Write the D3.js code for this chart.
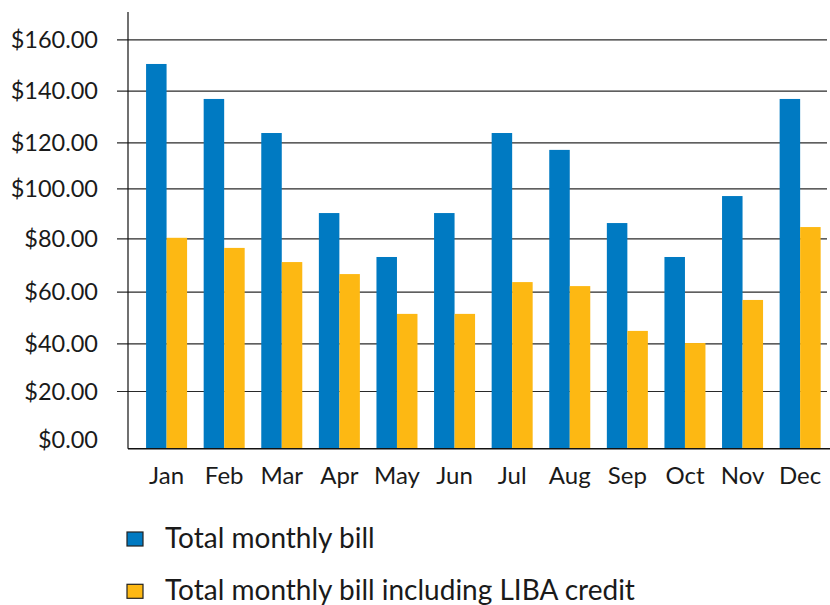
<!DOCTYPE html>
<html>
<head>
<meta charset="utf-8">
<script src="https://cdn.jsdelivr.net/npm/d3@7"></script>
<style>
  body { margin: 0; background: #fff; }
  text { font-family: Lato, "Open Sans", sans-serif; fill: #1a1a1a; }
</style>
</head>
<body>
<svg id="chart" width="830" height="605"></svg>
<script>
// ---- data ----
const months = ["Jan","Feb","Mar","Apr","May","Jun","Jul","Aug","Sep","Oct","Nov","Dec"];
const seriesNames = ["Total monthly bill", "Total monthly bill including LIBA credit"];
const totalBill = [150.4, 136.8, 123.6, 90.1, 73.0, 90.1, 123.6, 116.7, 86.1, 73.0, 96.9, 136.8];
const totalWithCredit = [80.2, 76.4, 71.1, 66.6, 51.4, 51.4, 63.6, 62.1, 44.8, 40.1, 56.8, 84.5];
const yTicks = [0, 20, 40, 60, 80, 100, 120, 140, 160];
const colors = ["#007ac2", "#fdb813"];

// ---- layout ----
const svg = d3.select("#chart");
const axisX = 128, plotRight = 827, plotTop = 12;
// tick positions of the reference's value axis (its gridlines are not evenly spaced)
const yRange = [448.7, 391, 343.3, 291.7, 238.3, 188.3, 142.3, 90.7, 39.3];

const y = d3.scaleLinear().domain(yTicks).range(yRange);
const x0 = d3.scaleBand().domain(months).range([axisX, plotRight])
  .paddingInner(0.288).paddingOuter(0.212).align(0.74);
const x1 = d3.scaleBand().domain(seriesNames).range([0, x0.bandwidth()]);

const rows = months.map((m, i) => ({ month: m, values: [totalBill[i], totalWithCredit[i]] }));

// gridlines
const grid = svg.append("g").attr("transform", `translate(${plotRight},0)`)
  .call(d3.axisLeft(y).tickValues(yTicks.slice(1)).tickSize(plotRight - 117).tickFormat(""));
grid.select(".domain").remove();
grid.selectAll(".tick line").attr("stroke", "#2a2a2a").attr("stroke-width", 1.2);

// bars
svg.append("g").selectAll("g").data(rows).join("g")
  .attr("transform", d => `translate(${x0(d.month)},0)`)
  .selectAll("rect").data(d => d.values.map((v, k) => ({ k, v })))
  .join("rect")
  .attr("x", d => x1(seriesNames[d.k]))
  .attr("width", x1.bandwidth())
  .attr("y", d => y(d.v))
  .attr("height", d => y(0) - y(d.v))
  .attr("fill", d => colors[d.k]);

// y labels
const yAx = svg.append("g").attr("transform", `translate(${axisX},0)`)
  .call(d3.axisLeft(y).tickValues(yTicks).tickSize(0).tickPadding(30)
    .tickFormat(d => "$" + d3.format(".2f")(d)));
yAx.select(".domain").remove();
yAx.selectAll(".tick text")
  .style("font-size", "23.5px").style("font-family", "Lato, 'Open Sans', sans-serif")
  .attr("fill", "#1a1a1a")
  .attr("dy", d => d === 0 ? "-0.05em" : "0.34em");

// y axis line
svg.append("line").attr("x1", axisX).attr("x2", axisX)
  .attr("y1", plotTop).attr("y2", y(0))
  .attr("stroke", "#111").attr("stroke-width", 1.2);

// x axis
const xAx = svg.append("g").attr("transform", `translate(0,${y(0)})`)
  .call(d3.axisBottom(x0).tickSize(0).tickPadding(18));
xAx.select(".domain").attr("d", `M${axisX},0H${plotRight + 3}`)
  .attr("stroke", "#111").attr("stroke-width", 1.5);
xAx.selectAll(".tick text")
  .style("font-size", "24px").style("font-family", "Lato, 'Open Sans', sans-serif")
  .attr("fill", "#1a1a1a");

// legend
const leg = svg.append("g").selectAll("g").data(seriesNames).join("g")
  .attr("transform", (d, i) => `translate(127,${532 + i * 52.3})`);
leg.append("rect").attr("width", 16).attr("height", 14)
  .attr("fill", (d, i) => colors[i]).attr("stroke", "#222").attr("stroke-width", 1.2);
leg.append("text").attr("x", 38).attr("y", 15.7)
  .style("font-size", "28px").text(d => d);
</script>
</body>
</html>
